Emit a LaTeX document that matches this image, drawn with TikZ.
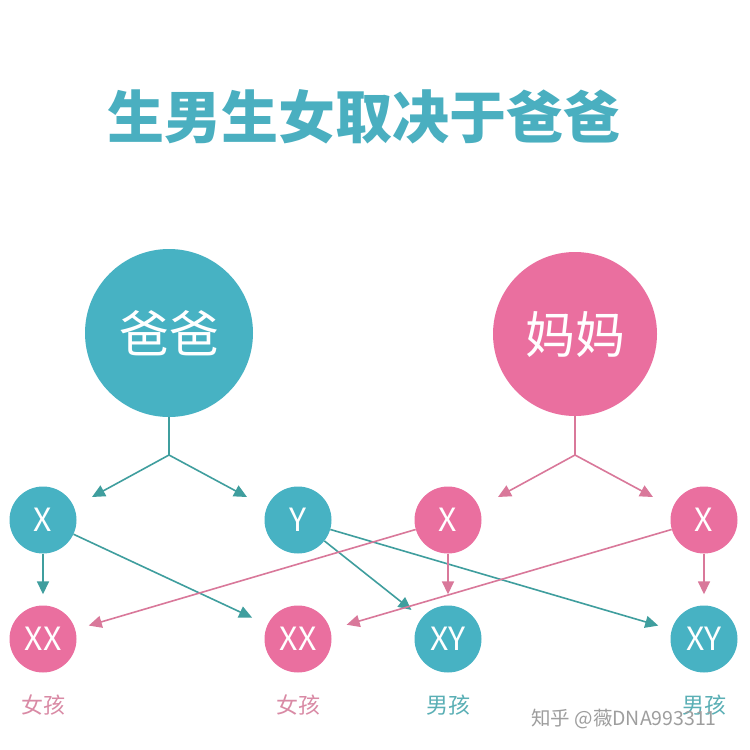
\documentclass[tikz,border=0pt]{standalone}
\usepackage{fontspec}
\setmainfont{Noto Sans CJK SC}
\usetikzlibrary{arrows.meta}
\definecolor{tealc}{HTML}{47B2C3}
\definecolor{pinkc}{HTML}{EA6F9F}
\definecolor{tealline}{HTML}{3F9E9E}
\definecolor{pinkline}{HTML}{D9789A}
\definecolor{titlec}{HTML}{4AAFC0}
\definecolor{girlc}{HTML}{D98AA5}
\definecolor{boyc}{HTML}{5AAFB5}
\begin{document}
\begin{tikzpicture}[x=1pt,y=-1pt,
  big/.style={circle,inner sep=0pt,minimum size=#1,text=white},
  small/.style={circle,inner sep=0pt,minimum size=67pt,text=white,font=\fontsize{32}{34}\selectfont},
  tl/.style={draw=tealline,line width=1.6pt,-{Triangle[length=13pt,width=12pt]}},
  pl/.style={draw=pinkline,line width=1.6pt,-{Triangle[length=13pt,width=12pt]}},
  tlp/.style={draw=tealline,line width=1.6pt},
  plp/.style={draw=pinkline,line width=1.6pt},
  lab/.style={font=\fontsize{22}{24}\selectfont}]
\useasboundingbox (0,0) rectangle (750,750);
\fill[white] (0,0) rectangle (750,750);
\node[text=titlec,font=\fontsize{57}{60}\selectfont\bfseries] (title) at (364,117) {生男生女取决于爸爸};
% parents
\node[big=168pt,fill=tealc,font=\fontsize{50}{54}\selectfont] (dad) at (169,333) {爸爸};
\node[big=164pt,fill=pinkc,font=\fontsize{50}{54}\selectfont] (mom) at (575,334) {妈妈};
% gametes
\node[small,fill=tealc] (dx) at (43,520) {X};
\node[small,fill=tealc] (dy) at (298,520) {Y};
\node[small,fill=pinkc] (mx1) at (448,520) {X};
\node[small,fill=pinkc] (mx2) at (704,520) {X};
% children
\node[small,fill=pinkc] (c1) at (43,639) {XX};
\node[small,fill=pinkc] (c2) at (298,639) {XX};
\node[small,fill=tealc] (c3) at (448,639) {XY};
\node[small,fill=tealc] (c4) at (704,639) {XY};
% labels
\node[lab,text=girlc] (l1) at (43,705) {女孩};
\node[lab,text=girlc] (l2) at (298,705) {女孩};
\node[lab,text=boyc] (l3) at (448,705) {男孩};
\node[lab,text=boyc] (l4) at (704,705) {男孩};
\node[font=\fontsize{19.5}{21}\selectfont,text=black!38] (wm) at (624,719) {知乎 @薇DNA993311};
% forks
\coordinate (dj) at (169,455);
\coordinate (da) at (92,497);
\coordinate (db) at (247,497);
\coordinate (mj) at (575,455);
\coordinate (ma) at (498,497);
\coordinate (mb) at (653,497);
\draw[tlp] (dad.south) -- (dj);
\draw[tl] (dj) -- (da);
\draw[tl] (dj) -- (db);
\draw[plp] (mom.south) -- (mj);
\draw[pl] (mj) -- (ma);
\draw[pl] (mj) -- (mb);
% crosses
\draw[tl,shorten >=11pt] (dx) -- (c1);
\draw[tl,shorten >=17pt] (dx) -- (c2);
\draw[tl,shorten >=13pt] (dy) -- (c3);
\draw[tl,shorten >=14pt] (dy) -- (c4);
\draw[pl,shorten >=14pt] (mx1) -- (c1);
\draw[pl,shorten >=11pt] (mx1) -- (c3);
\draw[pl,shorten >=17pt] (mx2) -- (c2);
\draw[pl,shorten >=11pt] (mx2) -- (c4);
\end{tikzpicture}
\end{document}
